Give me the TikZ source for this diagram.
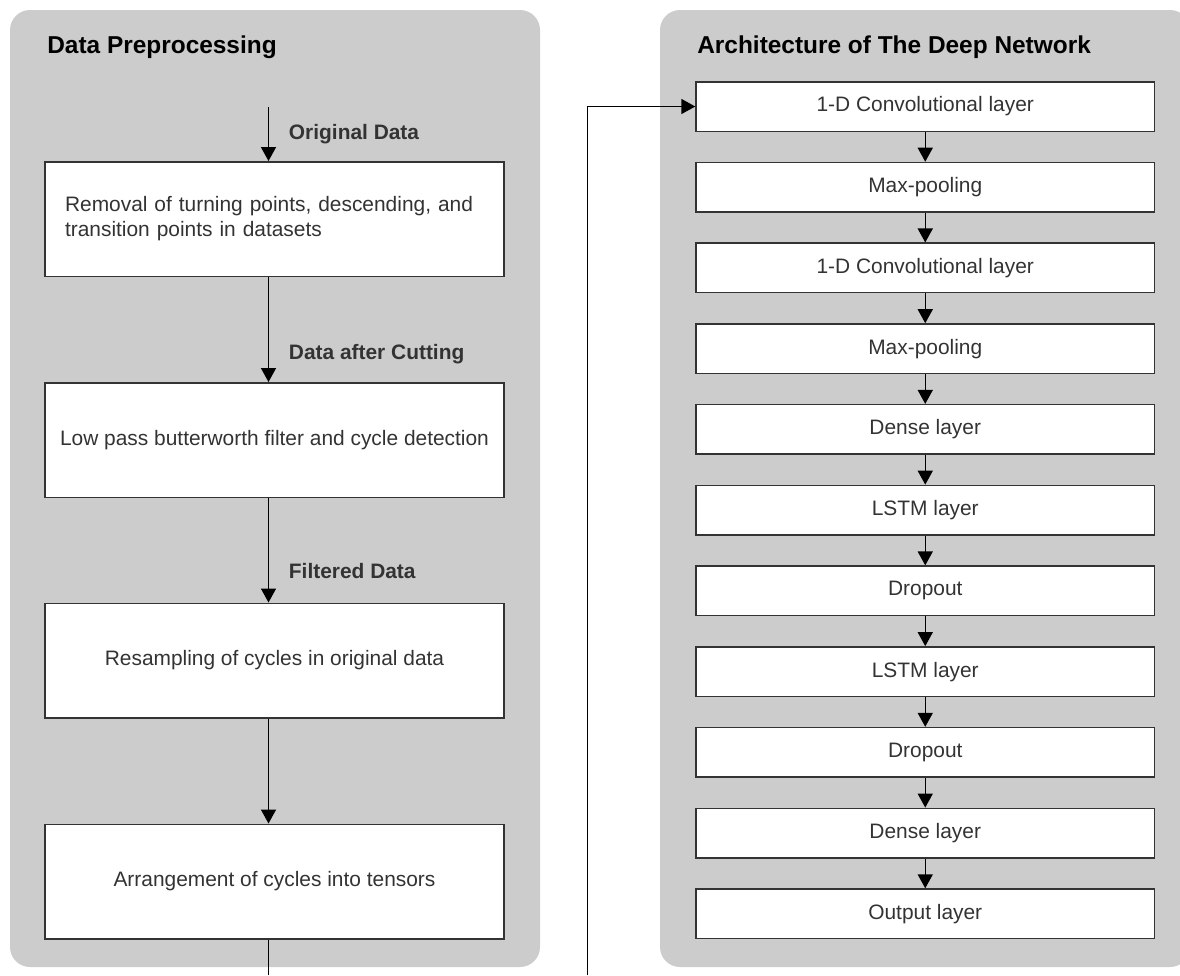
\documentclass[tikz,border=0pt]{standalone}
\usepackage{fontspec}
\setmainfont{Liberation Sans}
\usetikzlibrary{arrows.meta}
\definecolor{panelgray}{RGB}{204,204,204}
\definecolor{inkgray}{RGB}{51,51,51}
\tikzset{panel/.style={fill=panelgray,rounded corners=0.4cm},
 stage/.style={draw=inkgray,fill=white,line width=0.85pt,minimum width=9.18cm,minimum height=2.29cm,inner xsep=2pt,text=inkgray,font=\fontsize{11.9}{14.3}\selectfont},
 layer/.style={draw=inkgray,fill=white,line width=0.85pt,minimum width=9.17cm,minimum height=0.99cm,text=inkgray,font=\fontsize{11.9}{14.3}\selectfont},
 flow/.style={-{Triangle[length=2.8mm,width=3mm]},line width=0.85pt},
 paneltitle/.style={anchor=base west,inner sep=0,font=\fontsize{13.9}{16}\selectfont\bfseries},
 datatag/.style={anchor=base west,inner sep=0,text=inkgray,font=\fontsize{11.9}{14}\selectfont\bfseries}}

\begin{document}
\begin{tikzpicture}[x=0.02cm,y=-0.02cm]
 \useasboundingbox (0,0) rectangle (1180,975);
 \clip (0,0) rectangle (1180,975);
 % panels
 \fill[panel] (10,10) rectangle (540,967);
 \fill[panel] (660,10) rectangle (1190,967);
 \node[paneltitle] (prep) at (47,53) {Data Preprocessing};
 \node[paneltitle] (arch) at (697,53) {Architecture of The Deep Network};
 % data preprocessing
 \coordinate (spine) at (268.5,107);
 \node[stage,inner xsep=0.4cm,text width=8.38cm,align=left] (p1) at (274.5,219) {Removal of turning points, descending, and\\transition points in datasets};
 \node[stage] (p2) at (274.5,440) {Low pass butterworth filter and cycle detection};
 \node[stage] (p3) at (274.5,660.5) {Resampling of cycles in original data};
 \node[stage] (p4) at (274.5,881.5) {Arrangement of cycles into tensors};
 \draw[flow] (spine) -- (p1.north -| spine);
 \draw[flow] (p1.south -| spine) -- (p2.north -| spine);
 \draw[flow] (p2.south -| spine) -- (p3.north -| spine);
 \draw[flow] (p3.south -| spine) -- (p4.north -| spine);
 \node[datatag] (d1) at (288.6,139) {Original Data};
 \node[datatag] (d2) at (288.6,359) {Data after Cutting};
 \node[datatag] (d3) at (288.6,578) {Filtered Data};
 % deep network
 \foreach \lbl [count=\i] in {1-D Convolutional layer,Max-pooling,1-D Convolutional layer,Max-pooling,Dense layer,LSTM layer,Dropout,LSTM layer,Dropout,Dense layer,Output layer}
   \node[layer] (l\i) at (925.25,{106.5+80.73*(\i-1)}) {\lbl};
 \foreach \i [evaluate=\i as \j using int(\i+1)] in {1,...,10}
   \draw[flow] (l\i) -- (l\j);
 % link between the panels
 \coordinate (cutL) at (268.5,975);
 \coordinate (cutR) at (587.5,975);
 \draw[line width=0.85pt] (p4.south -| spine) -- (cutL);
 \draw[flow] (cutR) |- (l1.west);
\end{tikzpicture}
\end{document}
